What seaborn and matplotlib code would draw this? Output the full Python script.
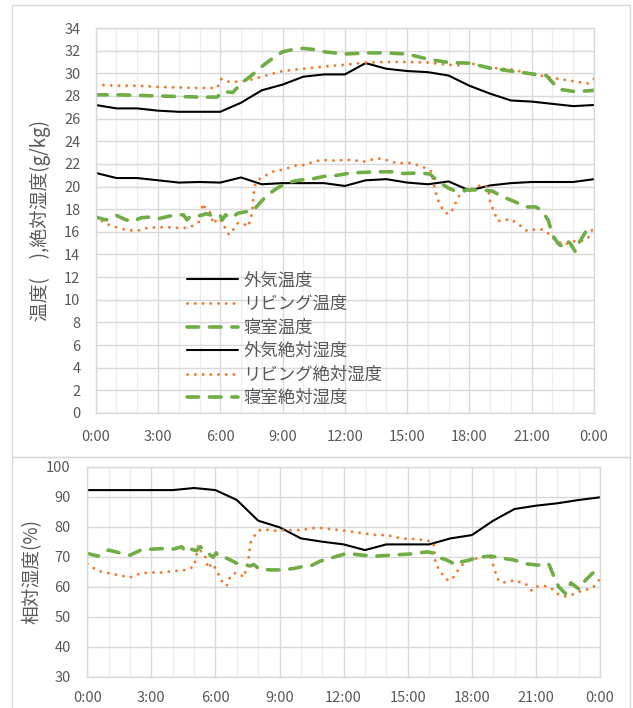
import matplotlib
matplotlib.use("Agg")
import matplotlib.pyplot as plt
import seaborn as sns
from matplotlib.patches import Rectangle

# ---------------- data ----------------
hours_out = list(range(0, 25))
out_temp = [27.2, 26.9, 26.9, 26.7, 26.6, 26.6, 26.6, 27.4, 28.5, 29.0, 29.7, 29.9, 29.9,
            30.9, 30.4, 30.2, 30.1, 29.8, 28.9, 28.2, 27.6, 27.5, 27.3, 27.1, 27.2]
out_ah = [21.2, 20.75, 20.75, 20.55, 20.35, 20.4, 20.35, 20.8, 20.2, 20.3, 20.3, 20.3, 20.05,
          20.55, 20.65, 20.35, 20.2, 20.45, 19.65, 20.1, 20.3, 20.4, 20.4, 20.4, 20.65]
out_rh = [92.3, 92.3, 92.3, 92.3, 92.3, 93.0, 92.3, 89.0, 82.1, 79.9, 76.2, 75.1, 74.2,
          72.3, 74.2, 74.2, 74.2, 76.2, 77.3, 82.1, 86.0, 87.1, 87.9, 89.0, 89.9]

t_liv_temp = [0, 1, 2, 3, 4, 5, 5.85, 6.05, 6.5, 7, 7.5, 8, 9, 10, 11, 12, 13, 14, 15, 16,
              17, 17.5, 18, 19, 20, 21, 22, 23, 23.7, 24]
liv_temp = [29.0, 28.9, 28.9, 28.8, 28.75, 28.7, 28.7, 29.5, 29.2, 29.3, 29.45, 29.7, 30.2,
            30.4, 30.6, 30.75, 30.95, 31.0, 31.0, 30.95, 30.75, 30.7, 30.9, 30.5, 30.35,
            29.95, 29.6, 29.3, 29.1, 29.5]

t_bed_temp = [0, 1, 2, 3, 4, 5, 5.85, 6.1, 6.6, 7, 7.5, 8, 8.5, 9, 9.5, 10, 10.5, 11, 12, 13,
              14, 15, 16, 17, 18, 19, 20, 21, 21.7, 22.3, 23, 23.7, 24]
bed_temp = [28.1, 28.1, 28.05, 28.0, 27.95, 27.9, 27.9, 28.4, 28.3, 29.1, 29.8, 30.6, 31.3,
            31.9, 32.1, 32.2, 32.1, 31.9, 31.7, 31.8, 31.8, 31.7, 31.25, 30.95, 30.9, 30.45,
            30.2, 29.95, 29.8, 28.6, 28.4, 28.45, 28.5]

t_liv_ah = [0, 0.5, 1, 1.5, 2, 2.5, 3, 3.5, 4, 4.5, 4.98, 5.08, 5.15, 5.31, 5.5, 5.67, 5.87,
            6.08, 6.24, 6.4, 6.53, 6.65, 6.86, 7.13, 7.34, 7.45, 7.53, 7.62, 7.7, 7.88, 8.17,
            8.48, 9.04, 9.6, 10.0, 10.56, 10.86, 11.46, 12.26, 12.95, 13.55, 14.1, 14.5,
            15.06, 15.7, 16.18, 16.3, 16.45, 16.6, 16.75, 17.0, 17.2, 17.47, 17.7, 18.0,
            18.35, 18.65, 18.9, 19.0, 19.15, 19.36, 19.72, 20.0, 20.28, 20.52, 20.76, 20.96,
            21.2, 21.5, 21.8, 21.96, 22.2, 22.5, 22.8, 23.1, 23.4, 23.7, 24.0]
liv_ah = [17.35, 16.7, 16.4, 16.15, 16.1, 16.35, 16.4, 16.4, 16.35, 16.35, 16.9, 17.5, 18.5,
          18.0, 17.75, 16.7, 17.2, 16.9, 16.3, 15.8, 15.8, 16.3, 16.8, 16.7, 16.45, 17.05,
          17.7, 19.55, 20.3, 20.65, 20.95, 21.3, 21.5, 21.85, 21.9, 22.2, 22.35, 22.3, 22.35,
          22.2, 22.5, 22.3, 22.05, 22.1, 21.8, 21.3, 20.1, 18.95, 18.4, 17.8, 17.55, 18.0,
          19.1, 19.55, 19.7, 20.0, 20.15, 19.9, 18.6, 17.95, 16.95, 17.05, 17.1, 16.75,
          16.45, 16.1, 16.1, 16.25, 16.2, 15.85, 15.5, 15.3, 14.85, 15.0, 15.2, 15.2, 15.4,
          16.5]

t_bed_ah = [0, 0.5, 1.0, 1.4, 1.75, 2.2, 2.6, 3.0, 3.58, 3.87, 4.22, 4.4, 4.54, 5.1, 5.3,
            5.6, 5.98, 6.1, 6.25, 6.5, 6.86, 7.34, 7.6, 7.88, 8.24, 8.73, 9.2, 9.6, 10.16,
            10.5, 11.0, 11.5, 12.3, 13.5, 14.5, 14.8, 15.6, 16.1, 16.5, 17.0, 17.4, 17.9,
            18.5, 19.1, 19.6, 20.2, 20.7, 21.2, 21.5, 21.8, 22.0, 22.3, 22.5, 22.7, 22.85,
            23.1, 23.3, 23.6, 24.0]
bed_ah = [17.3, 17.05, 17.45, 17.1, 16.9, 17.25, 17.3, 17.15, 17.4, 17.5, 17.5, 17.05,
          17.35, 17.45, 17.6, 17.45, 17.5, 17.05, 17.5, 17.2, 17.65, 17.8, 17.9, 18.5, 19.2,
          19.85, 20.3, 20.5, 20.65, 20.7, 20.9, 20.95, 21.2, 21.3, 21.3, 21.15, 21.2, 21.1,
          20.45, 19.85, 19.55, 19.7, 19.7, 19.6, 19.1, 18.65, 18.2, 18.2, 17.85, 17.0, 15.7,
          14.9, 14.7, 15.2, 15.0, 14.25, 15.1, 16.0, 16.3]

t_liv_rh = [0, 0.5, 1, 1.5, 2, 2.5, 3, 3.5, 4.08, 4.4, 4.72, 5.02, 5.06, 5.14, 5.19, 5.33,
            5.5, 5.58, 5.65, 5.84, 6.03, 6.16, 6.31, 6.52, 6.63, 6.83, 7.1, 7.33, 7.42, 7.5,
            7.56, 7.64, 7.8, 8.0, 8.33, 8.7, 9.0, 9.5, 10.0, 10.75, 11.5, 12.0, 12.9, 13.55,
            14.0, 14.7, 15.5, 16.0, 16.2, 16.25, 16.3, 16.5, 16.66, 16.9, 17.13, 17.3, 17.49,
            17.8, 18.08, 18.4, 18.7, 18.89, 19.0, 19.1, 19.17, 19.4, 19.7, 20.07, 20.33,
            20.6, 20.8, 21.0, 21.27, 21.5, 21.78, 22.02, 22.3, 22.64, 22.93, 23.2, 23.5,
            23.74, 23.92, 24.0]
liv_rh = [67.7, 65.4, 64.6, 63.9, 63.2, 64.6, 64.8, 64.8, 65.4, 65.4, 65.9, 67.0, 69.2, 71.4,
          73.9, 71.8, 70.7, 68.4, 66.2, 67.9, 65.9, 64.0, 61.8, 60.3, 62.6, 64.6, 64.5, 63.2,
          65.7, 67.9, 70.3, 74.8, 76.8, 78.8, 79.2, 78.7, 79.0, 78.9, 79.0, 79.8, 79.2, 78.8,
          77.9, 77.3, 77.3, 76.2, 75.9, 75.3, 74.8, 72.3, 67.7, 65.7, 63.7, 62.1, 63.2, 65.1,
          67.0, 68.8, 69.2, 69.9, 70.3, 69.9, 67.3, 65.1, 62.9, 61.4, 61.8, 62.3, 61.2, 60.7,
          58.8, 60.1, 60.3, 60.3, 59.2, 57.7, 56.8, 57.3, 58.1, 59.0, 59.3, 60.3, 61.8, 62.9]

t_bed_rh = [0, 0.5, 1, 1.5, 2, 2.5, 3, 3.5, 4, 4.43, 4.55, 4.67, 5.11, 5.3, 5.5, 5.89, 6.03,
            6.13, 6.53, 7.0, 7.64, 7.8, 8.05, 8.6, 9.15, 9.7, 10.0, 10.5, 10.9, 12.0, 12.3,
            12.9, 13.5, 14.2, 15.1, 15.9, 16.3, 16.53, 16.76, 17.3, 17.5, 17.8, 18.3, 18.9,
            19.43, 19.97, 20.57, 21.07, 21.6, 21.8, 22.06, 22.4, 22.64, 23.03, 23.3, 23.65,
            24.0]
bed_rh = [71.2, 70.3, 72.3, 71.4, 70.6, 72.3, 72.6, 72.8, 72.6, 73.4, 72.1, 73.0, 72.1, 73.4,
          72.1, 69.9, 71.4, 70.2, 69.6, 67.9, 67.0, 67.5, 65.9, 65.7, 65.7, 66.2, 66.7, 67.2,
          68.6, 70.9, 71.1, 70.6, 70.3, 70.6, 71.0, 71.7, 71.2, 69.6, 69.2, 67.3, 68.4, 68.8,
          69.9, 70.3, 69.6, 69.0, 67.7, 67.3, 67.7, 64.3, 60.1, 57.7, 61.4, 59.2, 62.1, 64.6,
          65.9]

x_ticks = [0, 3, 6, 9, 12, 15, 18, 21, 24]
x_labels = ["0:00", "3:00", "6:00", "9:00", "12:00", "15:00", "18:00", "21:00", "0:00"]

labels = ["外気温度", "リビング温度", "寝室温度", "外気絶対湿度", "リビング絶対湿度", "寝室絶対湿度"]
ylabel_top = "温度(　),絶対湿度(g/kg)"
ylabel_bot = "相対湿度(%)"

# ---------------- style ----------------
sns.set_theme(style="white")
plt.rcParams["font.family"] = ["Noto Sans CJK JP", "DejaVu Sans"]

BLACK = "#000000"
ORANGE = "#ED7D31"
GREEN = "#70AD47"
TXT = "#595959"
GRID = "#d9d9d9"
GRID_MINOR = "#eeeeee"

solid_kw = dict(color=BLACK, linewidth=1.5, linestyle="-")
dot_kw = dict(color=ORANGE, linewidth=2.1, linestyle=(0, (0.05, 2.6)), dash_capstyle="round")
dash_kw = dict(color=GREEN, linewidth=2.6, linestyle=(0, (3.2, 3.0)), dash_capstyle="round")

W, H = 633, 708
fig = plt.figure(figsize=(W / 100, H / 100), dpi=100)

# outer chart boxes
fig.patches.append(Rectangle((12 / W, 1 - 457 / H), 618 / W, 452 / H, transform=fig.transFigure,
                             fill=False, edgecolor=GRID, linewidth=1.0))
fig.patches.append(Rectangle((12 / W, 1 - 712 / H), 618 / W, 255 / H, transform=fig.transFigure,
                             fill=False, edgecolor=GRID, linewidth=1.0))


def px_axes(x0, y0, x1, y1):
    return fig.add_axes([x0 / W, 1 - y1 / H, (x1 - x0) / W, (y1 - y0) / H])


def style_axes(ax, ymin, ymax, ystep, ypad, xpad):
    ax.set_xlim(0, 24)
    ax.set_ylim(ymin, ymax)
    ax.set_xticks(x_ticks)
    ax.set_xticklabels(x_labels)
    ax.set_xticks(range(0, 25), minor=True)
    ax.set_yticks(list(range(ymin, ymax + 1, ystep)))
    ax.grid(which="minor", axis="x", color=GRID_MINOR, linewidth=0.9)
    ax.grid(which="major", axis="x", color=GRID, linewidth=1.0)
    ax.grid(which="major", axis="y", color=GRID, linewidth=1.0)
    ax.set_axisbelow(True)
    for s in ax.spines.values():
        s.set_color(GRID)
        s.set_linewidth(1.0)
    ax.tick_params(axis="both", which="both", length=0, labelsize=10.5, labelcolor=TXT)
    ax.tick_params(axis="y", pad=ypad)
    ax.tick_params(axis="x", pad=xpad)
    ax.set_xlabel("")
    ax.set_ylabel("")
    ax.set_facecolor("white")


# ---------------- top chart ----------------
ax1 = px_axes(95.7, 28, 594, 413)
sns.lineplot(x=hours_out, y=out_temp, ax=ax1, label=labels[0], estimator=None, sort=False, **solid_kw)
sns.lineplot(x=t_liv_temp, y=liv_temp, ax=ax1, label=labels[1], estimator=None, sort=False, **dot_kw)
sns.lineplot(x=t_bed_temp, y=bed_temp, ax=ax1, label=labels[2], estimator=None, sort=False, **dash_kw)
sns.lineplot(x=hours_out, y=out_ah, ax=ax1, label=labels[3], estimator=None, sort=False, **solid_kw)
sns.lineplot(x=t_liv_ah, y=liv_ah, ax=ax1, label=labels[4], estimator=None, sort=False, **dot_kw)
sns.lineplot(x=t_bed_ah, y=bed_ah, ax=ax1, label=labels[5], estimator=None, sort=False, **dash_kw)
style_axes(ax1, 0, 34, 2, 11, 12)

handles, labs = ax1.get_legend_handles_labels()
leg = ax1.legend(handles, labs, loc="upper left", bbox_to_anchor=((187 - 95.7) / 498.3, (413 - 271.5) / 385),
                 frameon=False, fontsize=12.5, handlelength=2.93, handletextpad=0.3,
                 labelspacing=0.32, borderpad=0, borderaxespad=0)
for t in leg.get_texts():
    t.set_color(TXT)

fig.text(40 / W, 1 - 220.5 / H, ylabel_top, rotation=90, ha="center", va="center",
         fontsize=13.5, color=TXT)

# ---------------- bottom chart ----------------
ax2 = px_axes(87.3, 467, 600, 677)
sns.lineplot(x=hours_out, y=out_rh, ax=ax2, estimator=None, sort=False, **solid_kw)
sns.lineplot(x=t_liv_rh, y=liv_rh, ax=ax2, estimator=None, sort=False, **dot_kw)
sns.lineplot(x=t_bed_rh, y=bed_rh, ax=ax2, estimator=None, sort=False, **dash_kw)
style_axes(ax2, 30, 100, 10, 12, 10)
if ax2.get_legend() is not None:
    ax2.get_legend().remove()

fig.text(32 / W, 1 - 572 / H, ylabel_bot, rotation=90, ha="center", va="center",
         fontsize=13.5, color=TXT)

fig.savefig("out.png", dpi=100, facecolor="white")
